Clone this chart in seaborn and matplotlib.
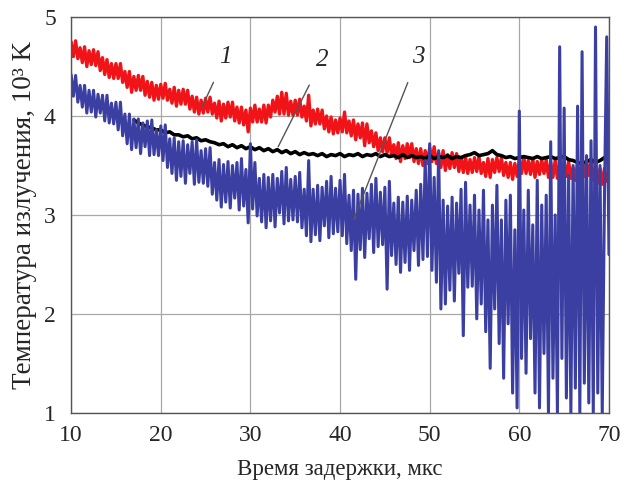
import numpy as np
import pandas as pd
import matplotlib
matplotlib.use("Agg")
import matplotlib.pyplot as plt
import seaborn as sns

# delay time grid, mks
t_fine = np.arange(10.0, 70.01, 0.25)
t_black = np.arange(17.0, 70.01, 0.5)

# curve 1 (red), 10^3 K
temp_1 = [
    4.75, 4.60, 4.76, 4.58, 4.69, 4.54, 4.70, 4.50, 4.66, 4.52, 4.67, 4.51,
    4.65, 4.46, 4.59, 4.42, 4.57, 4.39, 4.53, 4.38, 4.53, 4.38, 4.53, 4.34,
    4.45, 4.29, 4.45, 4.24, 4.40, 4.26, 4.41, 4.26, 4.40, 4.21, 4.35, 4.19,
    4.34, 4.16, 4.31, 4.17, 4.32, 4.18, 4.33, 4.16, 4.27, 4.13, 4.29, 4.10,
    4.26, 4.12, 4.27, 4.12, 4.26, 4.07, 4.20, 4.04, 4.19, 4.02, 4.16, 4.03,
    4.18, 4.04, 4.19, 4.02, 4.13, 3.98, 4.15, 3.95, 4.12, 3.98, 4.14, 3.99,
    4.14, 3.95, 4.09, 3.93, 4.09, 3.91, 4.06, 3.84, 4.08, 3.94, 4.11, 3.94,
    4.07, 3.94, 4.11, 3.93, 4.11, 3.99, 4.16, 4.04, 4.20, 4.02, 4.24, 4.02,
    4.23, 4.01, 4.15, 4.01, 4.16, 4.01, 4.17, 3.99, 4.10, 3.95, 4.21, 3.90,
    4.06, 3.92, 4.07, 3.92, 4.06, 3.87, 4.00, 3.84, 3.99, 3.82, 3.96, 3.83,
    3.98, 3.84, 4.04, 3.83, 3.95, 3.80, 3.96, 3.76, 3.92, 3.78, 3.93, 3.70,
    3.92, 3.73, 3.85, 3.69, 3.83, 3.65, 3.78, 3.64, 3.78, 3.63, 3.78, 3.60,
    3.71, 3.57, 3.73, 3.54, 3.70, 3.57, 3.72, 3.58, 3.72, 3.54, 3.67, 3.52,
    3.67, 3.50, 3.65, 3.52, 3.68, 3.54, 3.69, 3.52, 3.63, 3.48, 3.65, 3.45,
    3.61, 3.47, 3.63, 3.48, 3.62, 3.44, 3.58, 3.43, 3.59, 3.42, 3.56, 3.43,
    3.58, 3.44, 3.59, 3.42, 3.53, 3.39, 3.57, 3.38, 3.56, 3.43, 3.58, 3.44,
    3.58, 3.40, 3.53, 3.38, 3.53, 3.36, 3.52, 3.39, 3.56, 3.42, 3.59, 3.42,
    3.55, 3.41, 3.57, 3.38, 3.54, 3.41, 3.56, 3.42, 3.56, 3.38, 3.53, 3.38,
    3.55, 3.37, 3.51, 3.38, 3.53, 3.39, 3.54, 3.37, 3.48, 3.35, 3.53, 3.34,
    3.52, 3.39, 3.54, 3.40, 3.54, 3.35, 3.48, 3.32, 3.47, 3.31, 3.47, 3.34,
    3.43,
]

# curve 2 (black)
temp_2 = [
    3.96, 3.93, 3.91, 3.89, 3.88, 3.86, 3.86, 3.83, 3.84, 3.81, 3.81, 3.79,
    3.80, 3.77, 3.78, 3.75, 3.76, 3.74, 3.73, 3.71, 3.72, 3.69, 3.71, 3.68,
    3.70, 3.67, 3.69, 3.66, 3.68, 3.65, 3.67, 3.64, 3.66, 3.63, 3.65, 3.62,
    3.64, 3.61, 3.63, 3.61, 3.62, 3.60, 3.62, 3.59, 3.61, 3.60, 3.62, 3.59,
    3.61, 3.60, 3.62, 3.59, 3.61, 3.60, 3.62, 3.59, 3.61, 3.59, 3.60, 3.58,
    3.61, 3.58, 3.60, 3.58, 3.59, 3.57, 3.60, 3.57, 3.59, 3.58, 3.60, 3.57,
    3.59, 3.58, 3.60, 3.61, 3.63, 3.60, 3.61, 3.62, 3.65, 3.61, 3.60, 3.58,
    3.59, 3.57, 3.58, 3.59, 3.58, 3.57, 3.59, 3.57, 3.58, 3.59, 3.57, 3.58,
    3.59, 3.56, 3.55, 3.53, 3.52, 3.54, 3.56, 3.53, 3.55, 3.58, 3.57,
]

# curve 3 (blue)
temp_3 = [
    4.42, 4.20, 4.41, 4.14, 4.31, 4.09, 4.31, 4.03, 4.26, 4.04, 4.26, 3.99,
    4.22, 4.03, 4.21, 3.95, 4.21, 3.93, 4.13, 3.92, 4.14, 3.86, 4.14, 3.80,
    4.02, 3.72, 4.02, 3.66, 3.97, 3.68, 3.97, 3.62, 3.93, 3.69, 3.95, 3.60,
    3.96, 3.61, 3.86, 3.60, 3.90, 3.55, 3.91, 3.48, 3.77, 3.42, 3.78, 3.35,
    3.74, 3.39, 3.75, 3.32, 3.71, 3.42, 3.74, 3.31, 3.76, 3.33, 3.65, 3.32,
    3.67, 3.29, 3.68, 3.21, 3.53, 3.15, 3.56, 3.08, 3.51, 3.13, 3.54, 3.07,
    3.50, 3.17, 3.53, 3.05, 3.57, 3.09, 3.46, 2.92, 3.72, 3.06, 3.53, 2.99,
    3.37, 2.93, 3.41, 2.87, 3.38, 2.94, 3.41, 2.88, 3.37, 3.02, 3.44, 2.91,
    3.48, 2.94, 3.36, 2.95, 3.39, 2.93, 3.43, 2.87, 3.26, 2.79, 3.55, 2.73,
    3.26, 2.80, 3.30, 2.74, 3.28, 2.89, 3.34, 2.77, 3.39, 2.81, 3.27, 2.83,
    3.35, 2.79, 3.41, 2.71, 3.20, 2.64, 3.25, 2.35, 3.21, 2.65, 3.27, 2.57,
    3.22, 2.76, 3.31, 2.62, 3.37, 2.68, 3.23, 2.70, 3.28, 2.25, 3.34, 2.59,
    3.12, 2.50, 3.18, 2.42, 3.13, 2.52, 3.19, 2.44, 3.15, 2.64, 3.25, 2.49,
    3.31, 2.55, 3.55, 2.58, 3.72, 2.44, 3.38, 2.32, 3.65, 2.05, 3.15, 2.10,
    3.09, 2.24, 3.18, 2.13, 3.12, 2.41, 3.26, 1.78, 3.33, 2.27, 3.10, 2.28,
    3.20, 1.95, 3.05, 2.10, 3.25, 1.82, 2.95, 1.45, 3.10, 2.05, 3.30, 1.70,
    2.95, 1.35, 3.15, 1.90, 3.20, 1.20, 2.85, 1.05, 4.05, 1.55, 3.05, 1.40,
    3.25, 1.75, 2.90, 1.20, 3.35, 1.05, 3.10, 1.60, 3.20, 1.00, 3.74, 1.35,
    3.00, 1.00, 4.70, 1.55, 4.08, 1.15, 3.40, 1.00, 3.50, 1.25, 4.10, 1.00,
    4.65, 1.30, 3.60, 1.10, 3.75, 1.00, 4.90, 1.20, 3.50, 1.00, 3.20, 4.80,
    2.60,
]

# curve labels: (text x, text y) and leader-line tips
labels = ["1", "2", "3"]
label_xy = [(27.2, 4.60), (38.0, 4.57), (48.7, 4.60)]
tip_xy = [(24.6, 4.09), (33.1, 3.69), (41.5, 2.95)]

sns.set_style("white")
plt.rcParams["font.family"] = ["Liberation Serif", "DejaVu Serif"]

fig = plt.figure(figsize=(6.35, 4.88), dpi=100)
ax = fig.add_axes([0.112, 0.154, 0.847, 0.811])

df1 = pd.DataFrame({"t": t_fine, "T": temp_1})
df2 = pd.DataFrame({"t": t_black, "T": temp_2})
df3 = pd.DataFrame({"t": t_fine, "T": temp_3})

sns.lineplot(data=df1, x="t", y="T", ax=ax, color="#f01418", lw=2.4,
             estimator=None, sort=False)
sns.lineplot(data=df2, x="t", y="T", ax=ax, color="black", lw=2.6,
             estimator=None, sort=False)
sns.lineplot(data=df3, x="t", y="T", ax=ax, color="#3b3fa2", lw=2.2,
             estimator=None, sort=False)

for lab, (lx, ly), (tx, ty) in zip(labels, label_xy, tip_xy):
    ax.annotate(lab, xy=(tx, ty), xytext=(lx, ly), fontsize=18,
                style="italic", ha="center", va="center",
                arrowprops=dict(arrowstyle="-", color="#555555", lw=1.0,
                                shrinkA=9, shrinkB=0))

ax.set_xlim(10, 70)
ax.set_ylim(1, 5)
ax.set_xticks(range(10, 71, 10))
ax.set_yticks(range(1, 6))
ax.set_xticks(range(15, 70, 10), minor=True)
ax.grid(True, which="major", color="#a8a8a8", lw=0.9)
ax.tick_params(which="major", length=0, labelsize=17)
ax.tick_params(axis="x", which="major", pad=9)
ax.tick_params(axis="y", which="major", pad=11)
ax.tick_params(which="minor", axis="x", direction="in", length=3,
               color="#555555")
for s in ax.spines.values():
    s.set_color("#555555")
    s.set_linewidth(1.0)

ax.set_xlabel("Время задержки, мкс", fontsize=16.5, labelpad=9)
ax.set_ylabel("Температура излучения, 10³ K", fontsize=19.5, labelpad=5)

fig.savefig("out.png", dpi=100)
